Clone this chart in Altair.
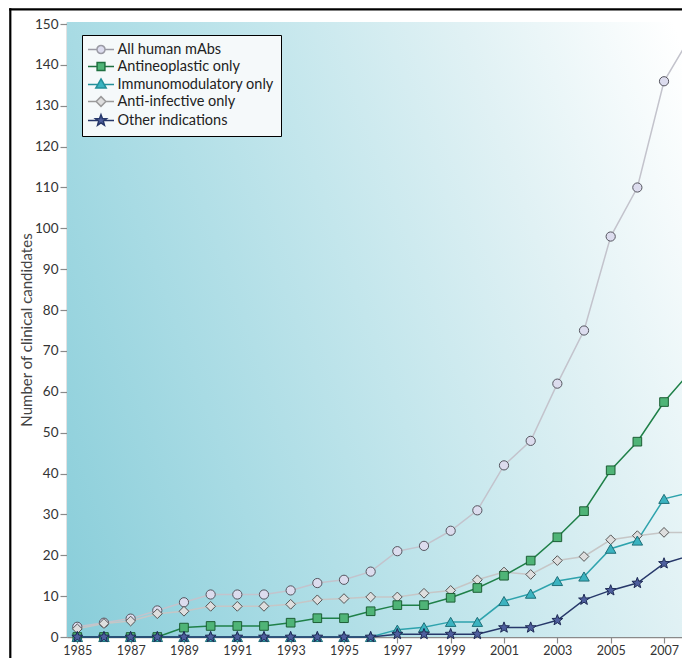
import math
import pandas as pd
import altair as alt

years = list(range(1985, 2009))
all_mabs = [2.5, 3.5, 4.5, 6.5, 8.5, 10.4, 10.4, 10.4, 11.4, 13.2, 14.0, 16.0,
            21.0, 22.3, 26.0, 31.0, 42.0, 48.0, 62.0, 75.0, 98.0, 110.0, 136.0, 147.0]
antineoplastic = [0, 0, 0, 0, 2.3, 2.7, 2.7, 2.7, 3.5, 4.6, 4.6, 6.3,
                  7.8, 7.8, 9.6, 12.0, 15.0, 18.7, 24.4, 30.8, 40.8, 47.8, 57.5, 65.0]
immunomodulatory = [0, 0, 0, 0, 0, 0, 0, 0, 0, 0, 0, 0,
                    1.8, 2.4, 3.7, 3.7, 8.8, 10.6, 13.7, 14.8, 21.6, 23.6, 33.8, 35.4]
anti_infective = [2.0, 3.3, 3.9, 5.7, 6.3, 7.5, 7.5, 7.5, 8.0, 9.1, 9.4, 9.8,
                  9.8, 10.7, 11.4, 14.0, 15.9, 15.3, 18.7, 19.7, 23.8, 24.8, 25.6, 25.6]
other = [0, 0, 0, 0, 0, 0, 0, 0, 0, 0, 0, 0,
         0.7, 0.7, 0.7, 0.7, 2.3, 2.3, 4.1, 9.1, 11.4, 13.2, 18.0, 20.0]

legend_order = ["All human mAbs", "Antineoplastic only", "Immunomodulatory only",
                "Anti-infective only", "Other indications"]
draw_order = ["All human mAbs", "Anti-infective only", "Antineoplastic only",
              "Immunomodulatory only", "Other indications"]
series_values = {
    "All human mAbs": all_mabs,
    "Antineoplastic only": antineoplastic,
    "Immunomodulatory only": immunomodulatory,
    "Anti-infective only": anti_infective,
    "Other indications": other,
}
x_tick_values = list(range(1985, 2008, 2))
y_tick_values = list(range(0, 151, 10))

rows = []
for s in draw_order:
    for yr, v in zip(years, series_values[s]):
        rows.append({"year": yr, "value": v, "series": s})
df = pd.DataFrame(rows)

# styles
line_color = {"All human mAbs": "#c3c3cc", "Anti-infective only": "#c6c6c6",
              "Antineoplastic only": "#1f8048", "Immunomodulatory only": "#2ea3ad",
              "Other indications": "#27386a"}
line_width = {"All human mAbs": 1.5, "Anti-infective only": 1.5,
              "Antineoplastic only": 2.0, "Immunomodulatory only": 1.8,
              "Other indications": 2.2}
fill_color = {"All human mAbs": "#dcdcee", "Anti-infective only": "#dedede",
              "Antineoplastic only": "#4fb477", "Immunomodulatory only": "#3bb3c0",
              "Other indications": "#4e5f9e"}
stroke_color = {"All human mAbs": "#55555f", "Anti-infective only": "#555555",
                "Antineoplastic only": "#1d5e35", "Immunomodulatory only": "#1f6f78",
                "Other indications": "#1e2a55"}
legend_stroke = {"All human mAbs": "#9a9aa4", "Anti-infective only": "#9a9a9a",
                 "Antineoplastic only": "#1f7040", "Immunomodulatory only": "#23909a",
                 "Other indications": "#27386a"}


def star_path(R, r, cx=0.0):
    pts = []
    for k in range(10):
        ang = math.radians(-90 + k * 36)
        rad = R if k % 2 == 0 else r
        pts.append((cx + rad * math.cos(ang), rad * math.sin(ang)))
    return "M" + "L".join(f"{x:.3f},{y:.3f}" for x, y in pts) + "Z"


plot_shape = {"All human mAbs": "circle", "Anti-infective only": "diamond",
              "Antineoplastic only": "square", "Immunomodulatory only": "triangle-up",
              "Other indications": star_path(1.0, 0.42)}
plot_size = {"All human mAbs": 85, "Anti-infective only": 95,
             "Antineoplastic only": 75, "Immunomodulatory only": 110,
             "Other indications": 130}

seg = "M-2,0H-{a}M{a},0H2"
legend_shape = {
    "All human mAbs": seg.format(a=0.62) + "M0.62,0A0.62,0.62,0,1,1,-0.62,0A0.62,0.62,0,1,1,0.62,0Z",
    "Antineoplastic only": seg.format(a=0.6) + "M-0.6,-0.6H0.6V0.6H-0.6Z",
    "Immunomodulatory only": seg.format(a=0.5) + "M0,-0.85L0.8,0.55H-0.8Z",
    "Anti-infective only": seg.format(a=0.75) + "M0,-0.75L0.75,0L0,0.75L-0.75,0Z",
    "Other indications": seg.format(a=0.55) + star_path(0.9, 0.38),
}

W, H = 615, 615
label_font = "Lato"

x_enc = alt.X("year:Q", scale=alt.Scale(domain=[1984.614, 2007.674], nice=False, zero=False),
              axis=alt.Axis(values=x_tick_values, format="d", title=None, grid=False,
                            tickSize=6, tickColor="#8a8a8a", domainColor="#8a8a8a",
                            domainWidth=1.5, tickWidth=1.2,
                            labelFont=label_font, labelFontSize=12.5, labelColor="#333333",
                            labelPadding=1, labelFlush=False, labelOverlap=False))
y_enc = alt.Y("value:Q", scale=alt.Scale(domain=[0, 150.5], nice=False),
              axis=alt.Axis(values=y_tick_values, title="Number of clinical candidates",
                            grid=False, tickSize=7, tickColor="#8a8a8a", domainColor="#8a8a8a",
                            domainWidth=1.5, tickWidth=1.2,
                            labelFont=label_font, labelFontSize=13.5, labelColor="#333333",
                            labelPadding=2, titleX=-41, titleY=H / 2, titleBaseline="middle",
                            titleFont="Lato", titleFontSize=15, titleFontWeight="normal",
                            titleColor="#444444"))

one = alt.Data(values=[{}])

background = alt.Chart(one).mark_rect(
    color=alt.Gradient(gradient="linear", x1=0, y1=1, x2=1.193, y2=0.565,
                       stops=[alt.GradientStop(color="#88cdd9", offset=0),
                              alt.GradientStop(color="#a8dbe4", offset=0.27),
                              alt.GradientStop(color="#c3e6ec", offset=0.5),
                              alt.GradientStop(color="#e0f1f4", offset=0.74),
                              alt.GradientStop(color="#ffffff", offset=1)])
).encode(x=alt.value(0), x2=alt.value("width"), y=alt.value(0), y2=alt.value("height"))

frame_left = alt.Chart(one).mark_rule(color="black", strokeWidth=2.2).encode(
    x=alt.value(-56.7), y=alt.value(-13.8), y2=alt.value(700))
frame_top = alt.Chart(one).mark_rule(color="black", strokeWidth=2.2).encode(
    x=alt.value(-57.8), x2=alt.value(700), y=alt.value(-12.7))

lines = alt.Chart(df).mark_line().encode(
    x=x_enc, y=y_enc,
    color=alt.Color("series:N", scale=alt.Scale(domain=draw_order,
                                                range=[line_color[s] for s in draw_order]),
                    legend=None),
    strokeWidth=alt.StrokeWidth("series:N", scale=alt.Scale(domain=draw_order,
                                                            range=[line_width[s] for s in draw_order]),
                                legend=None),
)

point_layers = []
for s in draw_order:
    point_layers.append(
        alt.Chart(df).transform_filter(alt.datum.series == s).mark_point(
            filled=True, shape=plot_shape[s], fill=fill_color[s], stroke=stroke_color[s],
            strokeWidth=1, size=plot_size[s], opacity=1, fillOpacity=1
        ).encode(x=x_enc, y=y_enc)
    )

legend_layer = alt.Chart(df).transform_filter("false").mark_point(
    filled=True, opacity=1, strokeWidth=1.5
).encode(
    fill=alt.Fill("series:N", scale=alt.Scale(domain=legend_order,
                                              range=[fill_color[s] for s in legend_order]),
                  legend=alt.Legend(title=None)),
    stroke=alt.Stroke("series:N", scale=alt.Scale(domain=legend_order,
                                                  range=[legend_stroke[s] for s in legend_order]),
                      legend=alt.Legend(title=None)),
    shape=alt.Shape("series:N", scale=alt.Scale(domain=legend_order,
                                                range=[legend_shape[s] for s in legend_order]),
                    legend=alt.Legend(title=None)),
)

chart = alt.layer(background, frame_left, frame_top, lines, *point_layers, legend_layer).properties(
    width=W, height=H,
    autosize=alt.AutoSizeParams(type="none"),
    padding={"left": 59, "top": 14, "right": 0, "bottom": 21},
    background="white",
).configure_view(stroke=None).configure_legend(
    orient="none", legendX=15, legendY=13, padding=7,
    strokeColor="black", fillColor="#f5f9fa", cornerRadius=0,
    symbolSize=169, symbolStrokeWidth=1.5, symbolOffset=4.5, labelOffset=9,
    labelFont=label_font, labelFontSize=14.5, labelColor="#222222", labelLimit=400,
    rowPadding=1, titlePadding=0,
)

chart.save("out.html", embed_options={"renderer": "svg", "actions": False})
